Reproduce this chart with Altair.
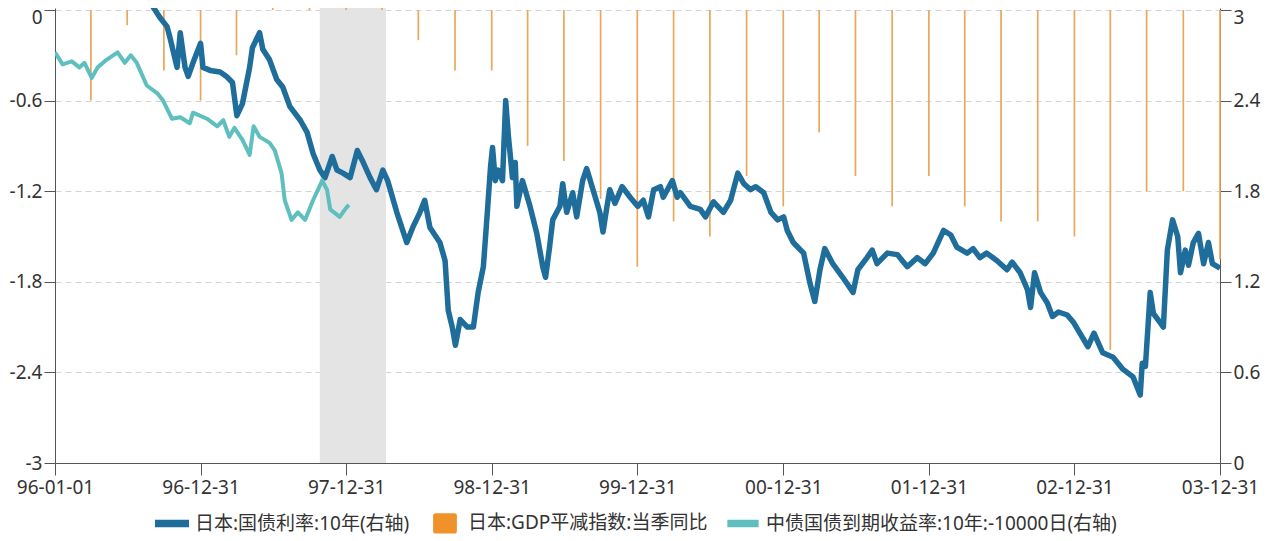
import altair as alt
import pandas as pd

SERIES = ["日本:国债利率:10年(右轴)", "日本:GDP平减指数:当季同比", "中债国债到期收益率:10年:-10000日(右轴)"]
COLORS = ["#1f6d9a", "#f0922a", "#5fbfbe"]
SHAPES = [
    "M-1,-0.22H1V0.22H-1Z",
    "M-0.55,-0.6H0.55Q0.7,-0.6 0.7,-0.45V0.45Q0.7,0.6 0.55,0.6H-0.55Q-0.7,0.6 -0.7,0.45V-0.45Q-0.7,-0.6 -0.55,-0.6Z",
    "M-0.92,-0.22H0.92V0.22H-0.92Z",
]

# Japan 10y government bond yield (right axis)
JP_DATES = [
    "1996-08-26", "1996-09-03", "1996-09-20", "1996-10-08", "1996-10-15", "1996-11-02", "1996-11-10",
    "1996-11-22", "1996-11-30", "1996-12-12", "1996-12-31", "1997-01-06", "1997-01-24", "1997-02-18",
    "1997-03-06", "1997-03-21", "1997-04-01", "1997-04-15", "1997-05-03", "1997-05-10", "1997-05-28",
    "1997-06-05", "1997-06-22", "1997-07-10", "1997-07-25", "1997-08-12", "1997-09-07", "1997-09-24",
    "1997-10-09", "1997-10-26", "1997-11-08", "1997-11-26", "1997-12-08", "1997-12-23", "1998-01-10",
    "1998-01-28", "1998-02-12", "1998-03-01", "1998-03-17", "1998-04-02", "1998-04-14", "1998-05-07",
    "1998-06-01", "1998-06-16", "1998-07-04", "1998-07-16", "1998-07-29", "1998-08-23", "1998-09-05",
    "1998-09-13", "1998-09-23", "1998-10-01", "1998-10-13", "1998-10-31", "1998-11-15", "1998-11-27",
    "1998-12-10", "1998-12-20", "1998-12-28", "1999-01-02", "1999-01-09", "1999-01-16", "1999-01-27",
    "1999-02-04", "1999-02-11", "1999-02-21", "1999-02-28", "1999-03-04", "1999-03-18", "1999-04-06",
    "1999-04-23", "1999-05-08", "1999-05-15", "1999-05-25", "1999-06-02", "1999-06-20", "1999-06-27",
    "1999-07-07", "1999-07-22", "1999-08-01", "1999-08-16", "1999-08-26", "1999-09-11", "1999-09-28",
    "1999-10-06", "1999-10-16", "1999-10-23", "1999-11-05", "1999-11-23", "1999-12-13", "2000-01-01",
    "2000-01-15", "2000-01-28", "2000-02-10", "2000-02-27", "2000-03-05", "2000-03-28", "2000-04-09",
    "2000-04-17", "2000-05-12", "2000-06-06", "2000-06-19", "2000-07-09", "2000-08-03", "2000-08-21",
    "2000-09-08", "2000-09-23", "2000-10-10", "2000-10-23", "2000-11-12", "2000-11-30", "2000-12-17",
    "2001-01-01", "2001-01-10", "2001-01-25", "2001-02-20", "2001-03-08", "2001-03-20", "2001-04-02",
    "2001-04-14", "2001-05-04", "2001-05-29", "2001-06-24", "2001-07-06", "2001-07-29", "2001-08-11",
    "2001-08-23", "2001-09-18", "2001-10-13", "2001-11-07", "2001-12-02", "2001-12-22", "2002-01-11",
    "2002-02-06", "2002-02-24", "2002-03-11", "2002-04-06", "2002-04-21", "2002-05-08", "2002-05-25",
    "2002-06-20", "2002-07-15", "2002-07-28", "2002-08-17", "2002-09-04", "2002-09-12", "2002-09-22",
    "2002-10-07", "2002-10-24", "2002-11-06", "2002-11-21", "2002-12-13", "2002-12-29", "2003-02-03",
    "2003-02-18", "2003-03-12", "2003-04-07", "2003-05-02", "2003-05-27", "2003-06-14", "2003-06-19",
    "2003-06-27", "2003-07-09", "2003-07-17", "2003-08-03", "2003-08-11", "2003-08-21", "2003-09-03",
    "2003-09-16", "2003-09-23", "2003-10-05", "2003-10-13", "2003-10-25", "2003-11-07", "2003-11-20",
    "2003-12-02", "2003-12-12", "2003-12-31",
]
JP_YIELD = [
    3.07, 3.02, 2.95, 2.89, 2.82, 2.62, 2.85,
    2.62, 2.56, 2.65, 2.78, 2.62, 2.60, 2.59,
    2.56, 2.52, 2.30, 2.38, 2.62, 2.75, 2.85,
    2.74, 2.67, 2.54, 2.49, 2.36, 2.27, 2.19,
    2.05, 1.94, 1.89, 2.03, 1.94, 1.92, 1.89,
    2.07, 1.99, 1.89, 1.81, 1.94, 1.87, 1.66,
    1.46, 1.56, 1.66, 1.74, 1.56, 1.46, 1.34,
    1.01, 0.90, 0.78, 0.95, 0.90, 0.90, 1.13,
    1.30, 1.66, 1.96, 2.09, 1.87, 1.94, 1.87,
    2.40, 2.16, 1.89, 1.99, 1.70, 1.87, 1.70,
    1.52, 1.30, 1.23, 1.43, 1.61, 1.70, 1.85,
    1.66, 1.79, 1.63, 1.87, 1.95, 1.81, 1.66,
    1.53, 1.70, 1.81, 1.72, 1.83, 1.76, 1.70,
    1.74, 1.63, 1.81, 1.83, 1.76, 1.87, 1.76,
    1.79, 1.70, 1.68, 1.63, 1.73, 1.66, 1.74,
    1.92, 1.85, 1.81, 1.83, 1.79, 1.66, 1.61,
    1.63, 1.54, 1.46, 1.39, 1.19, 1.07, 1.28,
    1.42, 1.32, 1.23, 1.13, 1.28, 1.36, 1.41,
    1.32, 1.39, 1.38, 1.30, 1.36, 1.32, 1.39,
    1.54, 1.51, 1.43, 1.39, 1.42, 1.36, 1.39,
    1.34, 1.28, 1.33, 1.26, 1.15, 1.03, 1.26,
    1.13, 1.06, 0.97, 1.00, 0.98, 0.93, 0.77,
    0.86, 0.73, 0.70, 0.62, 0.57, 0.45, 0.66,
    0.64, 1.13, 0.99, 0.93, 0.90, 1.41, 1.61,
    1.50, 1.26, 1.41, 1.31, 1.46, 1.52, 1.32,
    1.46, 1.32, 1.29,
]

# China 10y yield shifted by -10000 days (right axis)
CN_DATES = [
    "1996-01-01", "1996-01-20", "1996-02-12", "1996-03-02", "1996-03-15", "1996-04-02", "1996-04-17",
    "1996-05-09", "1996-06-06", "1996-06-24", "1996-07-09", "1996-07-24", "1996-08-18", "1996-09-13",
    "1996-09-28", "1996-10-20", "1996-11-10", "1996-12-04", "1996-12-12", "1997-01-16", "1997-02-11",
    "1997-02-26", "1997-03-13", "1997-03-26", "1997-04-15", "1997-05-03", "1997-05-13", "1997-05-28",
    "1997-06-22", "1997-07-05", "1997-07-22", "1997-07-30", "1997-08-16", "1997-09-01", "1997-09-19",
    "1997-10-09", "1997-11-01", "1997-11-13", "1997-11-21", "1997-12-15", "1997-12-31", "1998-01-07",
]
CN_YIELD = [
    2.72, 2.64, 2.66, 2.62, 2.65, 2.55, 2.62,
    2.67, 2.72, 2.65, 2.70, 2.65, 2.50, 2.45,
    2.40, 2.28, 2.29, 2.25, 2.32, 2.28, 2.23,
    2.27, 2.16, 2.22, 2.14, 2.04, 2.23, 2.16,
    2.12, 2.07, 1.92, 1.74, 1.61, 1.66, 1.61,
    1.74, 1.87, 1.81, 1.68, 1.63, 1.69, 1.71,
]

# Japan GDP deflator, yoy, quarterly (left axis)
GDP_DATES = [
    "1996-03-31", "1996-06-30", "1996-09-30", "1996-12-31",
    "1997-03-31", "1997-06-30", "1997-09-30", "1997-12-31",
    "1998-03-31", "1998-06-30", "1998-09-30", "1998-12-31",
    "1999-03-31", "1999-06-30", "1999-09-30", "1999-12-31",
    "2000-03-31", "2000-06-30", "2000-09-30", "2000-12-31",
    "2001-03-31", "2001-06-30", "2001-09-30", "2001-12-31",
    "2002-03-31", "2002-06-30", "2002-09-30", "2002-12-31",
    "2003-03-31", "2003-06-30", "2003-09-30", "2003-12-31",
]
GDP_DEFL = [
    -0.60, -0.10, -0.40, -0.60,
    -0.30, 0.30, 0.40, 0.50,
    0.20, -0.20, -0.40, -0.40,
    -0.90, -1.00, -1.25, -1.70,
    -1.40, -1.50, -1.10, -1.30,
    -0.81, -1.10, -1.30, -1.10,
    -1.30, -1.40, -1.40, -1.50,
    -2.25, -1.20, -1.20, -1.65,
]

BAND_START = ["1997-10-26"]
BAND_END = ["1998-04-10"]

X_DOMAIN = ["1996-01-01", "2003-12-31"]
X_TICKS = ["1996-01-01", "1996-12-31", "1997-12-31", "1998-12-31", "1999-12-31",
           "2000-12-31", "2001-12-31", "2002-12-31", "2003-12-31"]
LEFT_TICKS = [-3, -2.4, -1.8, -1.2, -0.6, 0]
RIGHT_TICKS = [0, 0.6, 1.2, 1.8, 2.4, 3]
LEFT_DOMAIN = [-3, 0.0133]
RIGHT_DOMAIN = [0, 3.0133]


def ms(d):
    return int(pd.Timestamp(d, tz="UTC").value // 10**6)


x_scale = alt.Scale(type="utc", domain=[ms(d) for d in X_DOMAIN])
x_axis = alt.Axis(
    values=[ms(d) for d in X_TICKS],
    labelExpr="utcFormat(datum.value, '%y-%m-%d')",
    title=None, grid=False, tickSize=12, labelPadding=3,
    labelFlush=False, labelOverlap=False,
    domainColor="#555555", tickColor="#555555",
)


def X(field):
    return alt.X(field, type="temporal", scale=x_scale, axis=x_axis)


jp = pd.DataFrame({"date": JP_DATES, "value": JP_YIELD})
cn = pd.DataFrame({"date": CN_DATES, "value": CN_YIELD})
gdp = pd.DataFrame({"date": GDP_DATES, "value": GDP_DEFL})
band = pd.DataFrame({"start": BAND_START, "end": BAND_END})
leg = pd.DataFrame({"series": SERIES})

left_y = alt.Y(
    "value:Q",
    scale=alt.Scale(domain=LEFT_DOMAIN, nice=False, zero=False),
    axis=alt.Axis(
        orient="left", values=LEFT_TICKS, labelExpr="toString(datum.value)",
        title=None, grid=True, gridDash=[6, 4], gridColor="#d4d4d4",
        tickSize=11, labelPadding=2, domainColor="#555555", tickColor="#555555",
        labelOffset={"condition": {"test": "datum.value == 0", "value": 7}, "value": 0},
    ),
)
right_y = alt.Y(
    "value:Q",
    scale=alt.Scale(domain=RIGHT_DOMAIN, nice=False, zero=False),
    axis=alt.Axis(
        orient="right", values=RIGHT_TICKS, labelExpr="toString(datum.value)",
        title=None, grid=False, tickSize=11, labelPadding=2,
        domainColor="#555555", tickColor="#555555",
        labelOffset={"condition": {"test": "datum.value == 3", "value": 7}, "value": 0},
    ),
)

band_layer = alt.Chart(band).mark_rect(color="#e4e4e4").encode(
    x=X("start"), x2="end:T", y=alt.value(0), y2=alt.value("height")
)
bar_layer = alt.Chart(gdp).mark_rule(color="#e8a75c", strokeWidth=1.7).encode(
    x=X("date"), y=left_y, y2=alt.datum(0)
)
left = alt.layer(band_layer, bar_layer)

jp_layer = alt.Chart(jp).mark_line(color=COLORS[0], strokeWidth=5.5, clip=True, strokeJoin="round").encode(
    x=X("date"), y=right_y
)
cn_layer = alt.Chart(cn).mark_line(color=COLORS[2], strokeWidth=4, clip=True, strokeJoin="round").encode(
    x=X("date"), y=right_y
)

legend = alt.Legend(
    orient="none", legendX=100, legendY=498, direction="horizontal", title=None,
    labelFont="Noto Sans, Noto Sans CJK SC", labelFontSize=19, labelColor="#333333",
    labelLimit=600, symbolSize=1156, symbolOpacity=1, symbolStrokeWidth=0, labelOffset=6,
    columnPadding=18, padding=0,
)
leg_layer = alt.Chart(leg).mark_point(filled=True, opacity=0).encode(
    x=alt.value(0), y=alt.value(0),
    color=alt.Color("series:N", scale=alt.Scale(domain=SERIES, range=COLORS), legend=legend),
    shape=alt.Shape("series:N", scale=alt.Scale(domain=SERIES, range=SHAPES), legend=legend),
)
right = alt.layer(jp_layer, cn_layer, leg_layer)

chart = (
    alt.layer(left, right)
    .resolve_scale(y="independent")
    .properties(
        width=1165, height=455,
        autosize=alt.AutoSizeParams(type="none"),
        padding={"left": 47, "top": 0, "right": 52, "bottom": 78},
    )
    .configure_view(stroke=None)
    .configure_axis(
        labelFont="Noto Sans", labelFontSize=19, labelColor="#333333",
    )
)

chart.save("out.html", embed_options={"renderer": "svg", "actions": False})
